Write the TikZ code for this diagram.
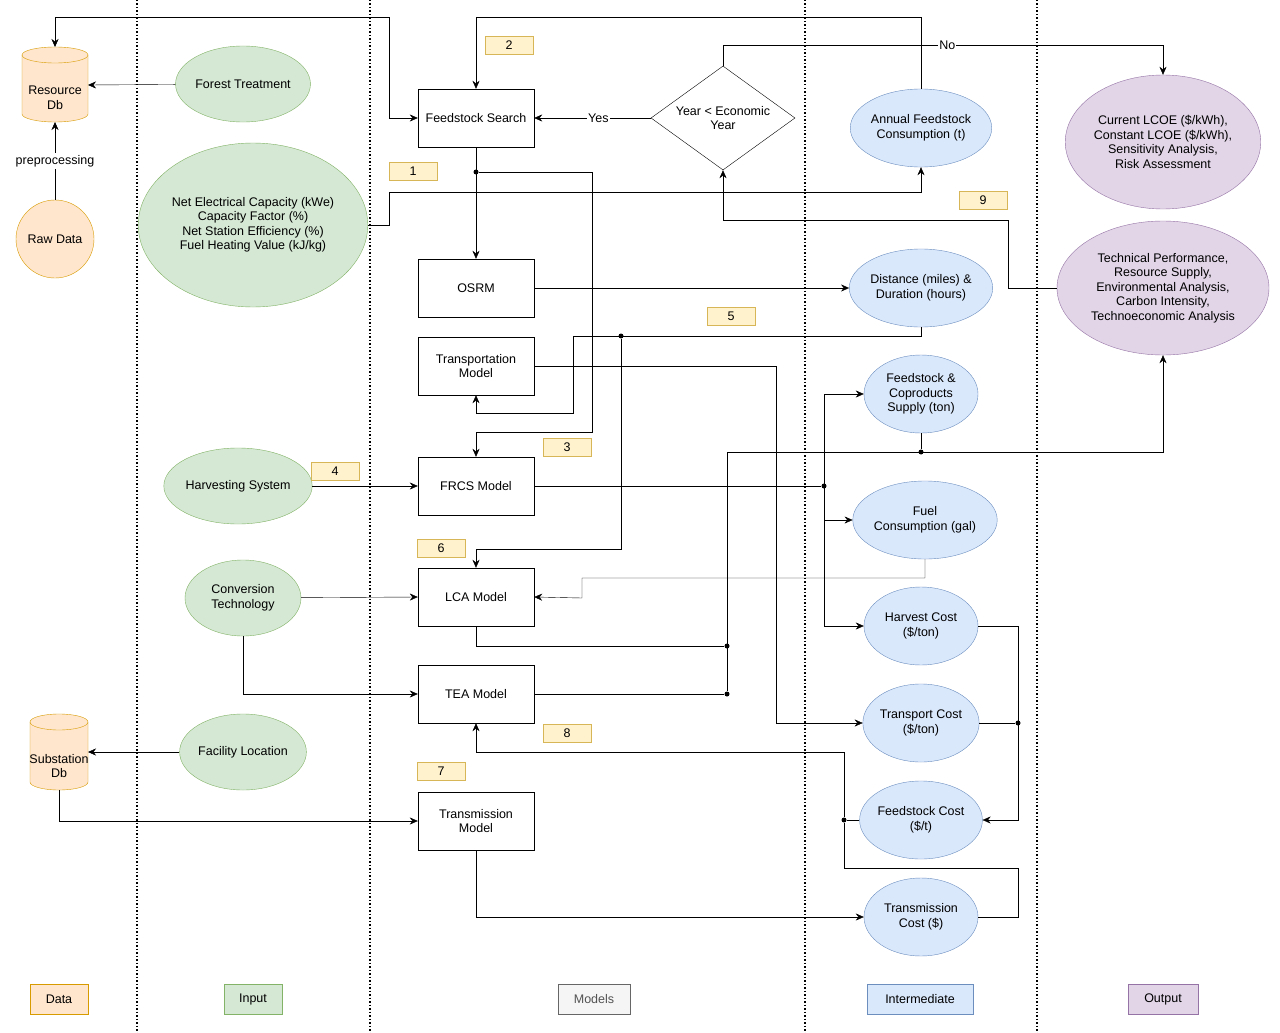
\documentclass[tikz,border=0pt]{standalone}
\usepackage{fontspec}
\setmainfont{Liberation Sans}
\usetikzlibrary{shapes.geometric,arrows.meta}
\definecolor{orF}{HTML}{FFE6CC}\definecolor{orD}{HTML}{D79B00}
\definecolor{grF}{HTML}{D5E8D4}\definecolor{grD}{HTML}{82B366}
\definecolor{blF}{HTML}{DAE8FC}\definecolor{blD}{HTML}{6C8EBF}
\definecolor{puF}{HTML}{E1D5E7}\definecolor{puD}{HTML}{9673A6}
\definecolor{yeF}{HTML}{FFF2CC}\definecolor{yeD}{HTML}{D6B656}
\definecolor{gyF}{HTML}{F5F5F5}\definecolor{gyD}{HTML}{666666}
\begin{document}
\begin{tikzpicture}[x=1pt,y=-1pt,
  every node/.style={font=\fontsize{12.5}{14.5}\selectfont,align=center,inner sep=0pt},
  box/.style={draw=black,fill=white,minimum width=116pt,minimum height=58pt},
  ell/.style={ellipse,draw,minimum width=#1},
  inp/.style={ell=116pt,fill=grF,draw=grD,minimum height=76pt},
  mid/.style={ellipse,fill=blF,draw=blD,minimum width=114pt,minimum height=78pt},
  outp/.style={ellipse,fill=puF,draw=puD},
  num/.style={fill=yeF,draw=yeD,minimum width=48pt,minimum height=18pt},
  leg/.style={minimum height=30pt},
  arr/.style={draw,-{Stealth[length=8pt,width=7pt]}},
  ln/.style={draw},
  dot/.style={circle,fill=black,minimum size=5pt},
  sep/.style={draw,dotted,line width=1.5pt}]
\useasboundingbox (0,0) rectangle (1280,1033);
\fill[white] (0,0) rectangle (1280,1033);
% separators
\foreach \x in {137,370,805,1037} \path[sep] (\x,0) -- (\x,1033);
% cylinders
\newcommand{\cyl}[5]{% cx, top, bottom, halfwidth, name
  \filldraw[fill=orF,draw=orD] (#1-#4,#2) -- (#1-#4,#3) arc[start angle=180,end angle=360,x radius=#4,y radius=-8] -- (#1+#4,#2) arc[start angle=0,end angle=180,x radius=#4,y radius=-8] -- cycle;
  \draw[orD] (#1-#4,#2) arc[start angle=180,end angle=360,x radius=#4,y radius=-8];
}
\cyl{55}{55}{114}{33}{}
\node (res) at (55,98) {Resource\\Db};
\coordinate (resT) at (55,47); \coordinate (resB) at (55,122); \coordinate (resR) at (88,85);
\cyl{59}{722}{782}{29}{}
\node (sub) at (59,766) {Substation\\Db};
\coordinate (subR) at (88,752); \coordinate (subB) at (59,790);
\node[ell=78pt,fill=orF,draw=orD,circle,minimum size=78pt] (raw) at (55,239) {Raw Data};
% inputs
\node[inp] (forest) at (243,84) {Forest Treatment};
\node[ellipse,fill=grF,draw=grD,minimum width=212pt,minimum height=164pt] (net) at (253,225) {Net Electrical Capacity (kWe)\\Capacity Factor (\%)\\Net Station Efficiency (\%)\\Fuel Heating Value (kJ/kg)};
\node[inp,minimum width=124pt] (harv) at (238,486) {Harvesting System};
\node[inp] (conv) at (243,598) {Conversion\\Technology};
\node[inp] (fac) at (243,752) {Facility Location};
% models
\node[box] (fs) at (476,118) {Feedstock Search};
\node[box] (osrm) at (476,288) {OSRM};
\node[box] (tm) at (476,366) {Transportation\\Model};
\node[box] (frcs) at (476,486) {FRCS Model};
\node[box] (lca) at (476,597) {LCA Model};
\node[box] (tea) at (476,694) {TEA Model};
\node[box] (trm) at (476,821) {Transmission\\Model};
\node[diamond,draw,fill=white,minimum width=144pt,minimum height=104pt,aspect=1.4] (dia) at (723,118) {};
\node at (723,118) {Year < Economic\\Year};
% intermediate
\node[mid] (ann) at (921,128) {Annual Feedstock\\Consumption (t)};
\node[mid] (dist) at (921,288) {Distance (miles) \&\\Duration (hours)};
\node[mid] (fc) at (921,394) {Feedstock \&\\Coproducts\\Supply (ton)};
\node[mid] (fuel) at (925,520) {Fuel\\Consumption (gal)};
\node[mid] (hc) at (921,626) {Harvest Cost\\(\$/ton)};
\node[mid] (tc) at (921,723) {Transport Cost\\(\$/ton)};
\node[mid] (fdc) at (921,820) {Feedstock Cost\\(\$/t)};
\node[mid] (trc) at (921,917) {Transmission\\Cost (\$)};
% outputs
\node[outp,minimum width=174pt,minimum height=134pt] (lcoe) at (1163,142) {Current LCOE (\$/kWh),\\Constant LCOE (\$/kWh),\\Sensitivity Analysis,\\Risk Assessment};
\node[outp,minimum width=212pt,minimum height=134pt] (tech) at (1163,288) {Technical Performance,\\Resource Supply,\\Environmental Analysis,\\Carbon Intensity,\\Technoeconomic Analysis};
% numbers
\node[num] (n2) at (509,45) {2};
\node[num] (n1) at (413,171) {1};
\node[num] (n9) at (983,200) {9};
\node[num] (n5) at (731,316) {5};
\node[num] (n3) at (567,447) {3};
\node[num] (n4) at (335,471) {4};
\node[num] (n6) at (441,548) {6};
\node[num] (n8) at (567,733) {8};
\node[num] (n7) at (441,771) {7};
% legend
\node[leg,fill=orF,draw=orD,minimum width=58pt] (l1) at (59,999) {Data};
\node[leg,fill=grF,draw=grD,minimum width=58pt] (l2) at (253,999) {Input};
\node[leg,fill=gyF,draw=gyD,minimum width=72pt,text=gyD!80!black] (l3) at (594,999) {Models};
\node[leg,fill=blF,draw=blD,minimum width=106pt] (l4) at (920,999) {Intermediate};
\node[leg,fill=puF,draw=puD,minimum width=70pt] (l5) at (1163,999) {Output};
% connectors
\path[draw,{Stealth[length=8pt,width=7pt]}-{Stealth[length=8pt,width=7pt]}] (resT) -- (55,17) -- (389,17) -- (389,118) -- (fs.west);
\path[arr] (forest) -- (resR);
\path[arr] (raw) -- node[fill=white,inner sep=2pt] {preprocessing} (resB);
\path[arr] (dia.west) -- node[fill=white,inner sep=1pt,pos=0.45] {Yes} (fs.east);
\path[arr] (dia.north) -- (723,45) -- node[fill=white,inner sep=1pt,pos=0.51] {No} (1163,45) -- (lcoe.north);
\path[arr] (ann.north) -- (921,17) -- (476,17) -- (fs.north);
\path[arr] (net.east) -- (389,225) -- (389,192) -- (921,192) -- (ann.south);
\path[arr] (tech.west) -- (1008,288) -- (1008,220) -- (723,220) -- (dia.south);
\path[arr] (fs.south) -- (osrm.north);
\node[dot] (d1) at (476,172) {};
\path[arr] (d1) -- (592,172) -- (592,432) -- (476,432) -- (frcs.north);
\path[arr] (osrm.east) -- (dist.west);
\path[arr] (dist.south) -- (921,336) -- (573,336) -- (573,413) -- (476,413) -- (tm.south);
\node[dot] (d2) at (621,336) {};
\path[arr] (d2) -- (621,549) -- (476,549) -- (lca.north);
\path[arr] (tm.east) -- (776,366) -- (776,723) -- (tc.west);
\path[arr] (harv) -- (frcs.west);
\node[dot] (d3) at (824,486) {};
\path[ln] (frcs.east) -- (d3);
\path[arr] (824,520) -- (824,394) -- (fc.west);
\path[arr] (824,520) -- (fuel.west);
\path[arr] (824,486) -- (824,626) -- (hc.west);
\node[dot] (d4) at (921,452) {};
\path[ln] (fc.south) -- (d4);
\path[arr] (727,452) -- (1163,452) -- (tech.south);
\node[dot] (d5) at (727,646) {};
\node[dot] (d6) at (727,694) {};
\path[ln] (727,452) -- (d6);
\path[ln] (lca.south) -- (476,646) -- (d5);
\path[ln] (tea.east) -- (d6);
\path[arr] (fuel.south) -- (925,578) -- (582,578) -- (582,598) -- (lca.east);
\path[arr] (conv) -- (lca.west);
\path[arr] (conv.south) -- (243,694) -- (tea.west);
\path[arr] (hc.east) -- (1018,626) -- (1018,820) -- (fdc.east);
\node[dot] (d7) at (1018,723) {};
\path[ln] (tc.east) -- (d7);
\node[dot] (d8) at (844,820) {};
\path[arr] (fdc.west) -- (d8) -- (844,752) -- (476,752) -- (tea.south);
\path[ln] (trc.east) -- (1018,917) -- (1018,868) -- (844,868) -- (d8);
\path[arr] (fac) -- (subR);
\path[arr] (subB) -- (59,821) -- (trm.west);
\path[arr] (trm.south) -- (476,917) -- (trc.west);
\end{tikzpicture}
\end{document}
